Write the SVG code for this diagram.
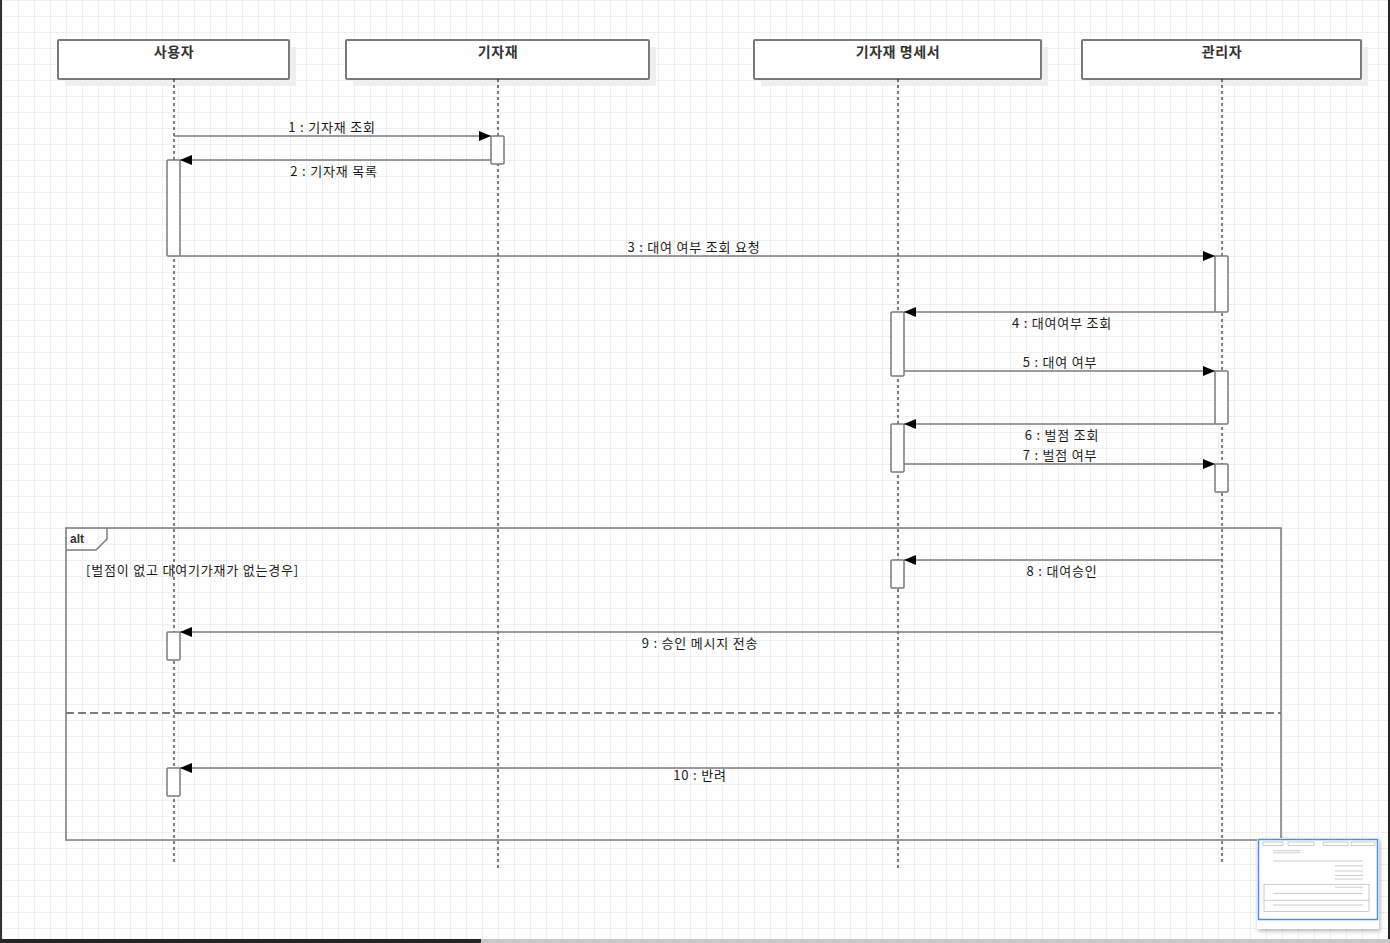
<svg xmlns="http://www.w3.org/2000/svg" width="1390" height="943" viewBox="0 0 1390 943">
<style>
.head{fill:#fff;stroke:#7a7a7a;stroke-width:2}
.shadow{fill:#efefef}
.htxt{font-family:"Noto Sans CJK KR","Liberation Sans",sans-serif;font-size:14px;font-weight:bold;fill:#333;text-anchor:middle;letter-spacing:0.6px}
.life{stroke:#000;stroke-width:1;stroke-dasharray:3 3;fill:none}
.act{fill:#fff;stroke:#7a7a7a;stroke-width:1.5}
.msg{stroke:#7a7a7a;stroke-width:1.5;fill:none;marker-end:url(#arr)}
.lbl{font-family:"Noto Sans CJK KR","Liberation Sans",sans-serif;font-size:13px;fill:#1a1a1a;text-anchor:middle;letter-spacing:0.8px}
.frame{fill:none;stroke:#7a7a7a;stroke-width:1.5}
.sep{stroke:#7a7a7a;stroke-width:2;stroke-dasharray:8 4;fill:none}
.tl{fill:none;stroke:#999;stroke-width:0.5}
</style>
<defs>
<pattern id="grid" patternUnits="userSpaceOnUse" x="2" y="0" width="16" height="16">
<path d="M0.5 0V16M0 0.5H16" stroke="#efefef" stroke-width="1" fill="none"/>
</pattern>
<marker id="arr" markerUnits="userSpaceOnUse" markerWidth="12" markerHeight="10" refX="12" refY="5" orient="auto">
<path d="M0 0L12 5L0 10z" fill="#000"/>
</marker>
<filter id="tsh" x="-10%" y="-10%" width="120%" height="120%">
<feDropShadow dx="1" dy="2" stdDeviation="2" flood-color="#000" flood-opacity="0.3"/>
</filter>
</defs>
<rect width="1390" height="943" fill="#fff"/>
<rect width="1390" height="943" fill="url(#grid)"/>

<g id="content">
<g id="lifelines">
<g id="user">
<rect class="shadow" x="65" y="47" width="231" height="39"/>
<rect class="head" x="58" y="40" width="231" height="39" rx="1"/>
<text class="htxt" x="174" y="57">사용자</text>
<line class="life" x1="174" y1="79" x2="174" y2="862"/>
</g>
<g id="equipment">
<rect class="shadow" x="353" y="47" width="303" height="39"/>
<rect class="head" x="346" y="40" width="303" height="39" rx="1"/>
<text class="htxt" x="498" y="57">기자재</text>
<line class="life" x1="498" y1="79" x2="498" y2="868"/>
</g>
<g id="spec">
<rect class="shadow" x="761" y="47" width="287" height="39"/>
<rect class="head" x="754" y="40" width="287" height="39" rx="1"/>
<text class="htxt" x="898" y="57">기자재 명세서</text>
<line class="life" x1="898" y1="79" x2="898" y2="868"/>
</g>
<g id="admin">
<rect class="shadow" x="1089" y="47" width="279" height="39"/>
<rect class="head" x="1082" y="40" width="279" height="39" rx="1"/>
<text class="htxt" x="1222" y="57">관리자</text>
<line class="life" x1="1222" y1="79" x2="1222" y2="862"/>
</g>
</g>

<g id="alt-frame">
<rect class="frame" x="66" y="528" width="1215" height="312"/>
<path class="frame" d="M66 550H96L107 539V528"/>
<text x="70" y="543" font-family="Liberation Sans, Arial, sans-serif" font-size="12" font-weight="bold" fill="#333">alt</text>
<text x="86" y="575" font-family="Noto Sans CJK KR, Liberation Sans, sans-serif" font-size="13" fill="#1a1a1a" letter-spacing="0.8">[벌점이 없고 대여기가재가 없는경우]</text>
<line class="sep" x1="66" y1="713" x2="1281" y2="713"/>
</g>

<g id="activations">
<rect class="act" x="491" y="136" width="13" height="28" rx="1"/>
<rect class="act" x="167" y="160" width="13" height="96" rx="1"/>
<rect class="act" x="1215" y="256" width="13" height="56" rx="1"/>
<rect class="act" x="891" y="312" width="13" height="64" rx="1"/>
<rect class="act" x="1215" y="371" width="13" height="53" rx="1"/>
<rect class="act" x="891" y="424" width="13" height="48" rx="1"/>
<rect class="act" x="1215" y="464" width="13" height="28" rx="1"/>
<rect class="act" x="891" y="560" width="13" height="28" rx="1"/>
<rect class="act" x="167" y="632" width="13" height="28" rx="1"/>
<rect class="act" x="167" y="768" width="13" height="28" rx="1"/>
</g>

<g id="connectors">
<line class="msg" x1="174" y1="136" x2="491" y2="136"/>
<text class="lbl" x="332" y="132">1 : 기자재 조회</text>
<line class="msg" x1="491" y1="160" x2="180" y2="160"/>
<text class="lbl" x="334" y="176">2 : 기자재 목록</text>
<line class="msg" x1="180" y1="256" x2="1215" y2="256"/>
<text class="lbl" x="694" y="252">3 : 대여 여부 조회 요청</text>
<line class="msg" x1="1215" y1="312" x2="904" y2="312"/>
<text class="lbl" x="1062" y="328">4 : 대여여부 조회</text>
<line class="msg" x1="904" y1="371" x2="1215" y2="371"/>
<text class="lbl" x="1060" y="367">5 : 대여 여부</text>
<line class="msg" x1="1215" y1="424" x2="904" y2="424"/>
<text class="lbl" x="1062" y="440">6 : 벌점 조회</text>
<line class="msg" x1="904" y1="464" x2="1215" y2="464"/>
<text class="lbl" x="1060" y="460">7 : 벌점 여부</text>
<line class="msg" x1="1222" y1="560" x2="904" y2="560"/>
<text class="lbl" x="1062" y="576">8 : 대여승인</text>
<line class="msg" x1="1222" y1="632" x2="180" y2="632"/>
<text class="lbl" x="700" y="648">9 : 승인 메시지 전송</text>
<line class="msg" x1="1222" y1="768" x2="180" y2="768"/>
<text class="lbl" x="700" y="780">10 : 반려</text>
</g>
</g>

<g id="thumbnail">
<rect x="1257" y="838" width="122" height="91" fill="#fff" filter="url(#tsh)"/>
<g>
<rect class="tl" x="1263" y="842" width="20" height="3.4"/>
<rect class="tl" x="1288" y="842" width="26" height="3.4"/>
<rect class="tl" x="1323" y="842" width="25" height="3.4"/>
<rect class="tl" x="1351" y="842" width="24" height="3.4"/>
<path class="tl" d="M1273 850.7H1300M1300 852.8H1273M1273 861H1363M1363 865.8H1335M1335 871H1363M1363 875.5H1335M1335 879H1363M1363 887.2H1335M1363 893.4H1273M1363 905H1273"/>
<rect class="tl" x="1264" y="884.5" width="105" height="27"/>
<path class="tl" d="M1264 900.3H1369"/>
</g>
<rect x="1258.5" y="839.5" width="119" height="80" fill="none" stroke="#4a90e2" stroke-width="1.5"/>
</g>

<g id="chrome">
<rect x="0" y="0" width="2" height="939" fill="#333"/>
<rect x="1388" y="0" width="2" height="939" fill="#222"/>
<rect x="0" y="939" width="481" height="4" fill="#252525"/>
<rect x="481" y="939" width="909" height="4" fill="#c8c8c8"/>
</g>
</svg>
